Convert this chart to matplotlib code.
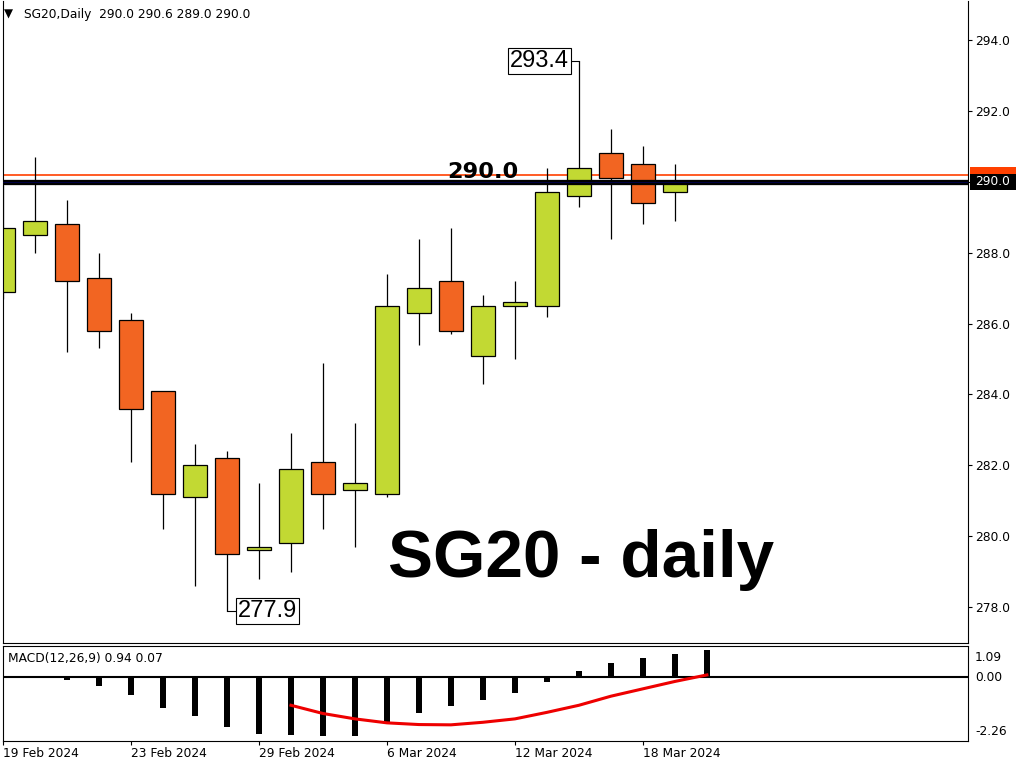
import matplotlib
matplotlib.use('Agg')
import matplotlib.pyplot as plt
import matplotlib.transforms as mtransforms
from matplotlib.patches import Rectangle
import numpy as np

# daily candles, 19 Feb - 20 Mar 2024
opens = [286.9, 288.5, 288.8, 287.3, 286.1, 284.1, 281.1, 282.2, 279.6, 279.8, 282.1,
         281.3, 281.2, 286.3, 287.2, 285.1, 286.5, 286.5, 289.6, 290.8, 290.5, 289.7]
highs = [289.9, 290.7, 289.5, 288.0, 286.3, 284.1, 282.6, 282.4, 281.5, 282.9, 284.9,
         283.2, 287.4, 288.4, 288.7, 286.8, 287.2, 290.4, 293.4, 291.5, 291.0, 290.5]
lows = [286.7, 288.0, 285.2, 285.3, 282.1, 280.2, 278.6, 277.9, 278.8, 279.0, 280.2,
        279.7, 281.1, 285.4, 285.7, 284.3, 285.0, 286.2, 289.3, 288.4, 288.8, 288.9]
closes = [288.7, 288.9, 287.2, 285.8, 283.6, 281.2, 282.0, 279.5, 279.7, 281.9, 281.2,
          281.5, 286.5, 287.0, 285.8, 286.5, 286.6, 289.7, 290.4, 290.1, 289.4, 290.0]

tick_idx = [0, 4, 8, 12, 16, 20]
tick_labels = ['19 Feb 2024', '23 Feb 2024', '29 Feb 2024', '6 Mar 2024', '12 Mar 2024', '18 Mar 2024']

# MACD histogram from bar 2, signal line from bar 9
hist_start = 2
hist = [-0.12, -0.33, -0.65, -1.11, -1.39, -1.78, -2.02, -2.06, -2.09, -2.09, -1.60,
        -1.27, -1.04, -0.80, -0.56, -0.19, 0.22, 0.49, 0.65, 0.82, 0.94]
sig_start = 9
signal = [-1.00, -1.29, -1.48, -1.62, -1.68, -1.69, -1.60, -1.48, -1.25, -1.00,
          -0.68, -0.42, -0.16, 0.07]

level = 290.0
ask = 290.2
bull_col = '#c2d933'
bear_col = '#f26522'
ask_col = '#ff4000'

fig = plt.figure(figsize=(10.24, 7.68), dpi=100)
ax = fig.add_axes([3/1024, 1-643/768, 965/1024, 642/768])
ax2 = fig.add_axes([3/1024, 1-741/768, 965/1024, 95/768], sharex=ax)

x = np.arange(len(opens))
o = np.array(opens); c = np.array(closes)
cols = [bull_col if cc >= oo else bear_col for oo, cc in zip(o, c)]
ax.vlines(x, lows, highs, color='black', lw=0.9, zorder=1)
ax.bar(x, np.abs(c - o), bottom=np.minimum(o, c), width=0.75, color=cols,
       edgecolor='black', lw=0.9, zorder=2)

ax.axhline(ask, color=ask_col, lw=1.2, zorder=0.5)
ax.axhline(level, color='black', lw=3.8, zorder=3)
ax.axhline(level, color='#000060', lw=0.5, zorder=3.1)

ax.set_xlim(0, 30.16)
ax.set_ylim(276.99, 295.10)
ax.yaxis.tick_right()
yt = np.arange(278, 295, 2)
ax.set_yticks(yt)
ax.set_yticklabels(['' if v == level else '%.1f' % v for v in yt])
ax.tick_params(axis='y', direction='out', length=3, width=0.8, pad=2, labelsize=8.8)
ax.tick_params(axis='x', bottom=False, labelbottom=False)
ax.spines['top'].set_visible(False)

# high / low labels
ax.plot([18 - 0.32, 18], [highs[18], highs[18]], color='black', lw=0.8)
ax.text(18 - 0.32, highs[18], '%.1f' % highs[18], ha='right', va='center',
        family='Liberation Sans', fontsize=17,
        bbox=dict(boxstyle='square,pad=0.08', fc='white', ec='black', lw=0.8))
ax.plot([7, 7 + 0.35], [lows[7], lows[7]], color='black', lw=0.8)
ax.text(7 + 0.35, lows[7], '%.1f' % lows[7], ha='left', va='center',
        family='Liberation Sans', fontsize=17,
        bbox=dict(boxstyle='square,pad=0.08', fc='white', ec='black', lw=0.8))

ax.text(13.87, 290.12, '%.1f' % level, ha='left', va='baseline', family='DejaVu Sans',
        fontweight='bold', fontsize=16.2, zorder=5)
ax.text(385/965, 1 - 576/642, 'SG20 - daily', transform=ax.transAxes, ha='left',
        va='baseline', family='Liberation Sans', fontweight='bold', fontsize=48.5)

# price boxes on the right scale (ask box mostly hidden behind the level box)
tr = mtransforms.blended_transform_factory(ax.transAxes, ax.transData)
ax.add_patch(Rectangle((1 + 2/965, level), 46/965, ask + 0.22 - level, transform=tr,
                       fc=ask_col, ec='none', clip_on=False, zorder=6))
ax.add_patch(Rectangle((1 + 2/965, level - 0.23), 46/965, 0.45, transform=tr,
                       fc='black', ec='none', clip_on=False, zorder=7))
ax.text(1 + 7/965, level, '%.1f' % level, transform=tr, ha='left', va='center',
        color='white', fontsize=8.8, clip_on=False, zorder=8)

fig.text(4/1024, 1 - 18/768, '\u25bc', fontsize=8.5, va='baseline')
fig.text(24/1024, 1 - 18/768, 'SG20,Daily  290.0 290.6 289.0 290.0', fontsize=8.8,
         va='baseline')

# MACD panel
hx = np.arange(hist_start, hist_start + len(hist))
ax2.bar(hx, hist, width=0.19, color='black', zorder=2)
ax2.axhline(0, color='black', lw=1.5, zorder=1)
sx = np.arange(sig_start, sig_start + len(signal))
ax2.plot(sx, signal, color='#ee0000', lw=2.2, zorder=3)
ax2.set_ylim(-2.26, 1.09)
ax2.set_yticks([])
ax2.set_xticks(tick_idx)
ax2.set_xticklabels(tick_labels)
for lbl in ax2.get_xticklabels():
    lbl.set_ha('left')
ax2.tick_params(axis='x', direction='out', length=3, width=0.8, pad=1, labelsize=8.8)
ax2.text(5/965, 0.83, 'MACD(12,26,9) 0.94 0.07', transform=ax2.transAxes, fontsize=8.8,
         va='baseline')
tr2 = mtransforms.blended_transform_factory(ax2.transAxes, ax2.transData)
ax2.annotate('1.09', xy=(1, 1.09), xycoords=tr2, xytext=(5, -8), textcoords='offset points',
             va='center', ha='left', fontsize=8.8, annotation_clip=False)
ax2.annotate('-2.26', xy=(1, -2.26), xycoords=tr2, xytext=(5, 6.5), textcoords='offset points',
             va='center', ha='left', fontsize=8.8, annotation_clip=False)
ax2.annotate('0.00', xy=(1, 0), xycoords=tr2, xytext=(5, -0.5), textcoords='offset points',
             va='center', ha='left', fontsize=8.8, annotation_clip=False)

fig.savefig('out.png', dpi=100, facecolor='white')
